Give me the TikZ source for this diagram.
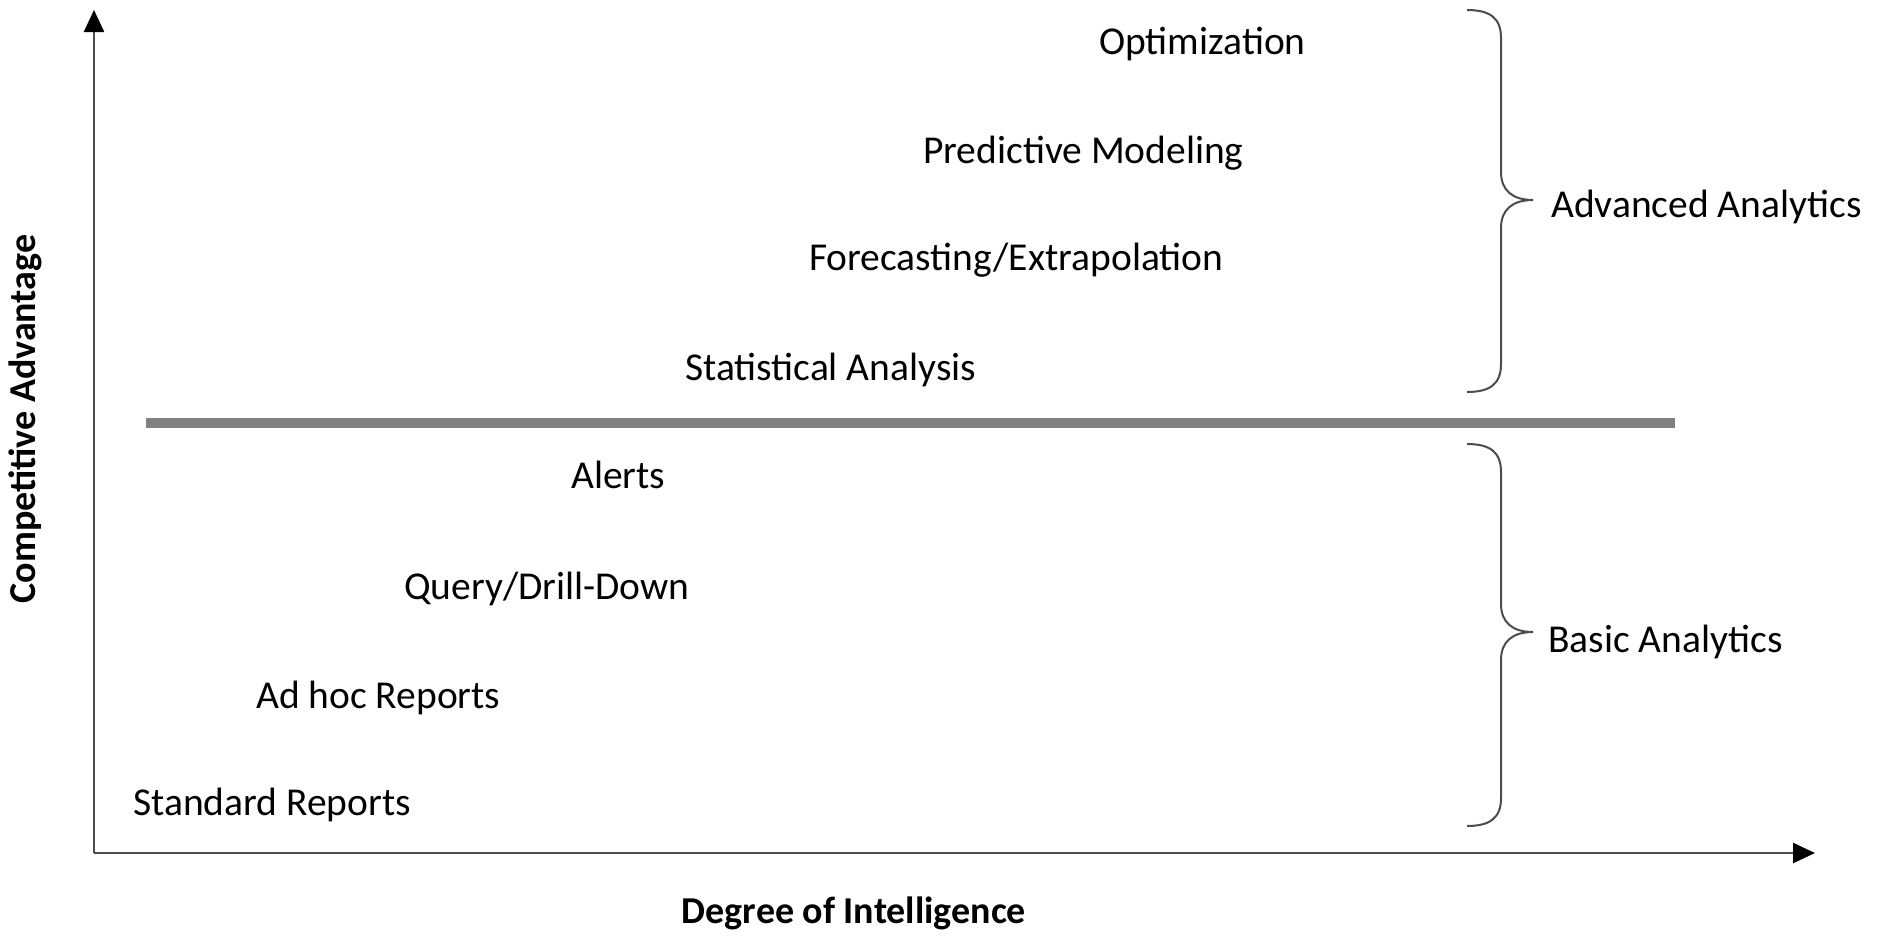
\documentclass[tikz,border=0pt]{standalone}
\usepackage{fontspec}
\setmainfont{Carlito}
\usetikzlibrary{arrows.meta}
\tikzset{
  item/.style={anchor=west,inner sep=0pt,text height=26pt,text depth=8pt,font=\fontsize{39.5}{45}\selectfont},
  axislbl/.style={inner sep=0pt,font=\fontsize{38}{44}\selectfont\bfseries},
  axis/.style={line width=2.5pt,draw=black!70,-{Triangle[length=22pt,width=20pt,color=black]}},
  brc/.style={line width=2pt,draw=black!70},
}
\begin{document}
\begin{tikzpicture}[x=1pt,y=-1pt]
\useasboundingbox (0,0) rectangle (1881,935);
%\draw[help lines,step=100] (0,0) grid (1881,935);
\coordinate (o) at (94,853);
\coordinate (ytip) at (94,10);
\coordinate (xtip) at (1815,853);
\draw[axis] (o)--(ytip);
\draw[axis] (o)--(xtip);
\node[axislbl,rotate=90] (yl) at (25,419) {Competitive Advantage};
\node[axislbl] (xl) at (854,913) {Degree of Intelligence};
% divider
\draw[line width=10pt,draw=black!50] (146,423)--(1675,423);
% upper group
\node[item] (opt) at (1099,45) {Optimization};
\node[item] (pred) at (923,154) {Predictive Modeling};
\node[item] (fore) at (809,261) {Forecasting/Extrapolation};
\node[item] (stat) at (685,371) {Statistical Analysis};
% lower group
\node[item] (alert) at (571,479) {Alerts};
\node[item] (query) at (404,590) {Query/Drill-Down};
\node[item] (adhoc) at (256,699) {Ad hoc Reports};
\node[item] (std) at (133,806) {Standard Reports};
% braces
\draw[brc] (1467,10) .. controls (1490,10) and (1501,18) .. (1501,38) -- (1501,172)
  .. controls (1501,190) and (1512,200) .. (1533,200) coordinate (ta)
  .. controls (1512,200) and (1501,210) .. (1501,228) -- (1501,364)
  .. controls (1501,384) and (1490,392) .. (1467,392);
\draw[brc] (1467,444) .. controls (1490,444) and (1501,452) .. (1501,472) -- (1501,604)
  .. controls (1501,622) and (1512,632) .. (1533,632) coordinate (tb)
  .. controls (1512,632) and (1501,642) .. (1501,660) -- (1501,798)
  .. controls (1501,818) and (1490,826) .. (1467,826);
\node[item] (adv) at ([xshift=18pt,yshift=-8pt]ta) {Advanced Analytics};
\node[item] (basic) at ([xshift=15pt,yshift=-11pt]tb) {Basic Analytics};
\end{tikzpicture}
\end{document}
